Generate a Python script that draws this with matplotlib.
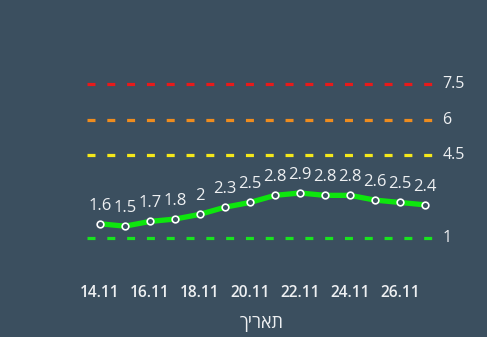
import matplotlib
matplotlib.use("Agg")
import matplotlib.pyplot as plt

dates = ["14.11", "15.11", "16.11", "17.11", "18.11", "19.11", "20.11",
         "21.11", "22.11", "23.11", "24.11", "25.11", "26.11", "27.11"]
values = [1.6, 1.5, 1.7, 1.8, 2, 2.3, 2.5, 2.8, 2.9, 2.8, 2.8, 2.6, 2.5, 2.4]
thresholds = [7.5, 6, 4.5, 1]
threshold_colors = ["#e81a1a", "#ee8c1e", "#f5e81a", "#19e320"]
xlabel = "תאריך"

BG = "#3b4f5f"
TXT = "#eef0f2"
fam = ["Open Sans", "DejaVu Sans"]

fig = plt.figure(figsize=(4.87, 3.37), dpi=100, facecolor=BG)
ax = fig.add_axes([87 / 487, 1 - 270 / 337, 350 / 487, 200 / 337])
ax.set_facecolor(BG)
for s in ax.spines.values():
    s.set_visible(False)

x = list(range(len(values)))
ax.set_xlim(-0.52, 13.48)
ax.set_ylim(-0.35, 8.09)

for t, c in zip(thresholds, threshold_colors):
    ax.axhline(t, color=c, lw=2.3, dashes=(2.5, 3.7), dash_capstyle="butt")
    ax.annotate(f"{t:g}", xy=(1, t), xycoords=("axes fraction", "data"),
                xytext=(4, 0), textcoords="offset points", ha="left",
                va="center", color=TXT, fontsize=11.5, family=fam)

ax.plot(x, values, color="#0ee60e", lw=3.8, solid_capstyle="round", zorder=3)
ax.plot(x, values, ls="none", marker="o", ms=4.8, mfc=BG, mec="white",
        mew=1.2, zorder=4)
for xi, v in zip(x, values):
    ax.annotate(f"{v:g}", xy=(xi, v), xytext=(0, 13), textcoords="offset points",
                ha="center", va="center", color=TXT, fontsize=12, family=fam)

ax.set_xticks(x[::2])
ax.set_xticklabels(dates[::2], family=fam, fontsize=11.2, color=TXT,
                   fontweight="semibold")
ax.tick_params(axis="x", length=0, pad=11)
ax.set_yticks([])
ax.set_xlabel(xlabel[::-1], family=fam, fontsize=13, color=TXT, labelpad=9)

fig.savefig("out.png", dpi=100, facecolor=BG)
